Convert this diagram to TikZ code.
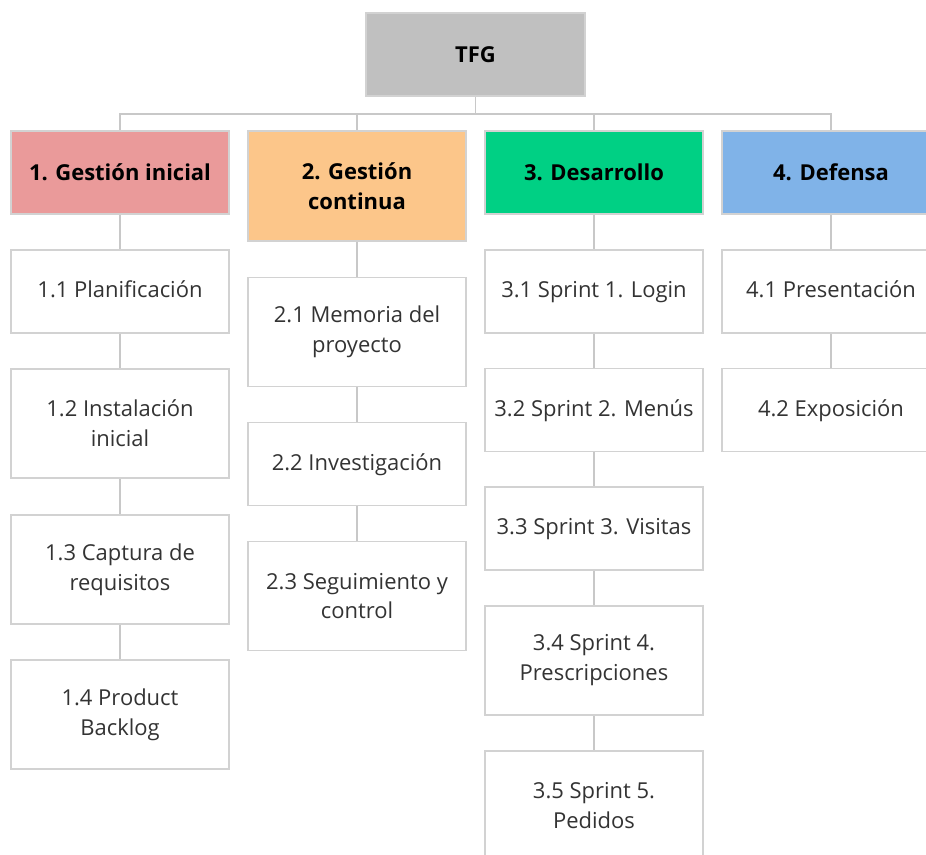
\documentclass[tikz,border=0pt]{standalone}
\usepackage{fontspec}
\setmainfont{Open Sans}
\usepackage{tikz}
\usetikzlibrary{positioning}
\pgfdeclarelayer{background}
\pgfdeclarelayer{foreground}
\pgfsetlayers{background,main,foreground}
\definecolor{rootgray}{HTML}{C0C0C0}
\definecolor{pinkbox}{HTML}{EA9A9A}
\definecolor{orangebox}{HTML}{FCC68A}
\definecolor{greenbox}{HTML}{00D084}
\definecolor{bluebox}{HTML}{80B3E8}
\definecolor{edgegray}{HTML}{D2D2D2}
\definecolor{linegray}{HTML}{C8C8C8}
\definecolor{txtgray}{HTML}{333333}
\begin{document}
\begin{tikzpicture}[x=0.02cm,y=-0.02cm,
	wbsbox/.style={rectangle, draw=edgegray, line width=1.1pt, minimum width=4.36cm, minimum height=1.66cm, align=center, font=\fontsize{12.5}{17}\selectfont},
	headbox/.style={wbsbox, font=\fontsize{12.5}{17}\selectfont\bfseries, text=black},
	taskbox/.style={wbsbox, fill=white, text=txtgray, text height=0.95em, text depth=0.25em},
	tasktall/.style={wbsbox, fill=white, text=txtgray, minimum height=2.18cm},
	link/.style={draw=linegray, line width=0.9pt},
	]
	\useasboundingbox (0,0) rectangle (926,855);
	\clip (0,0) rectangle (926,855);
	%Nodes
	\node[headbox, fill=rootgray, minimum width=4.38cm]          (tfg)  at (475.5,54.5)  {TFG};
	\node[headbox, fill=pinkbox]                                 (g1)   at (120,172.5)   {1. Gestión inicial};
	\node[headbox, fill=orangebox, minimum height=2.2cm]         (g2)   at (357,186)     {2. Gestión\\continua};
	\node[headbox, fill=greenbox]                                (g3)   at (594,172.5)   {3. Desarrollo};
	\node[headbox, fill=bluebox]                                 (g4)   at (831,172.5)   {4. Defensa};
	\coordinate (bus) at (475.5,114);
	% column 1
	\node[taskbox]    (c11) at (120,291.5) {1.1 Planificación};
	\node[tasktall]   (c12) at (120,423.5) {1.2 Instalación\\inicial};
	\node[tasktall]   (c13) at (120,569.5) {1.3 Captura de\\requisitos};
	\node[tasktall]   (c14) at (120,714.5) {1.4 Product\\Backlog};
	% column 2
	\node[tasktall]   (c21) at (357,332)   {2.1 Memoria del\\proyecto};
	\node[taskbox]    (c22) at (357,464)   {2.2 Investigación};
	\node[tasktall]   (c23) at (357,596)   {2.3 Seguimiento y\\control};
	% column 3
	\node[taskbox]    (c31) at (594,291.5) {3.1 Sprint 1. Login};
	\node[taskbox]    (c32) at (594,410)   {3.2 Sprint 2. Menús};
	\node[taskbox]    (c33) at (594,528.5) {3.3 Sprint 3. Visitas};
	\node[tasktall]   (c34) at (594,660.5) {3.4 Sprint 4.\\Prescripciones};
	\node[tasktall]   (c35) at (594,805.5) {3.5 Sprint 5.\\Pedidos};
	% column 4
	\node[taskbox]    (c41) at (831,291.5) {4.1 Presentación};
	\node[taskbox]    (c42) at (831,410)   {4.2 Exposición};

	\begin{pgfonlayer}{background}
	%Lines
	\draw[link] (tfg.south) -- (bus);
	\foreach \g in {g1,g2,g3,g4}
		\draw[link] (bus) -| (\g.north);
	\draw[link] (g1.south) -- (c11.north);
	\draw[link] (c11.south) -- (c12.north);
	\draw[link] (c12.south) -- (c13.north);
	\draw[link] (c13.south) -- (c14.north);
	\draw[link] (g2.south) -- (c21.north);
	\draw[link] (c21.south) -- (c22.north);
	\draw[link] (c22.south) -- (c23.north);
	\draw[link] (g3.south) -- (c31.north);
	\draw[link] (c31.south) -- (c32.north);
	\draw[link] (c32.south) -- (c33.north);
	\draw[link] (c33.south) -- (c34.north);
	\draw[link] (c34.south) -- (c35.north);
	\draw[link] (g4.south) -- (c41.north);
	\draw[link] (c41.south) -- (c42.north);
	\end{pgfonlayer}
\end{tikzpicture}
\end{document}
